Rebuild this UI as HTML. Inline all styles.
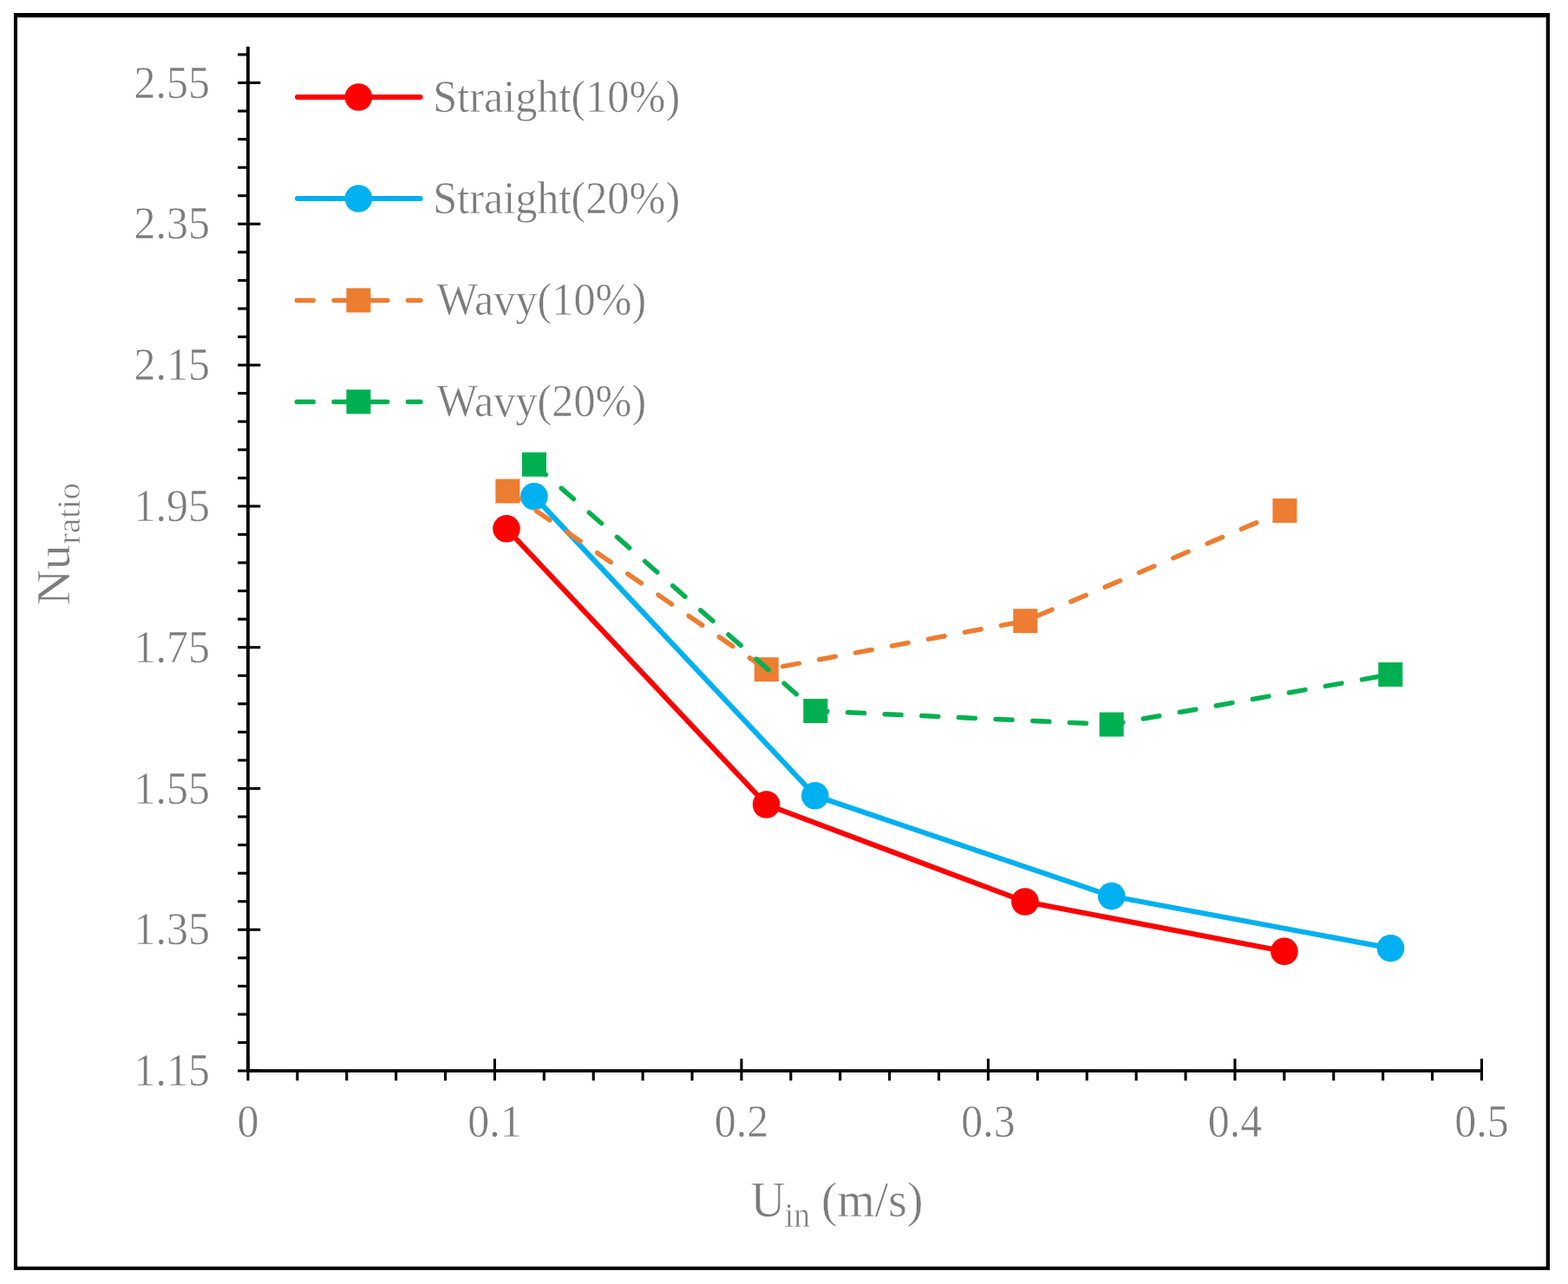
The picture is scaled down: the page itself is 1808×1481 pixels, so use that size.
<!DOCTYPE html>
<html lang="en"><head><meta charset="utf-8"><title>Nu ratio vs inlet velocity</title>
<style>
html,body{margin:0;padding:0;background:#fff;}
body{width:1808px;height:1481px;overflow:hidden;position:relative;}
svg{position:absolute;left:0;top:0;display:block;}
text{font-family:"Liberation Serif","Times New Roman",Times,serif;fill:#7c7c7c;stroke:#fff;stroke-width:0.50px;paint-order:fill stroke;}
.tk{font-size:50px;}
.lg{font-size:50.3px;}
.ttl{font-size:55.6px;}
.sub{font-size:37.5px;}
</style></head><body>
<svg role="img" aria-label="Line chart of Nu ratio versus inlet velocity" width="1808" height="1481" viewBox="0 0 1808 1481">
<rect x="0" y="0" width="1808" height="1481" fill="#fff"/>
<g>
<rect x="20.0" y="20.0" width="1762.7" height="1.6" fill="#dcdcdc"/>
<rect x="15.95" y="15.0" width="1771.05" height="5.0" fill="#000"/>
<rect x="15.95" y="1460.8" width="1771.05" height="4.1" fill="#000"/>
<rect x="15.95" y="15.0" width="4.05" height="1449.9" fill="#000"/>
<rect x="1782.7" y="15.0" width="4.3" height="1449.9" fill="#000"/>
</g>
<g stroke="#000" fill="none" stroke-linecap="butt">
<line x1="285.95" y1="53.80" x2="285.95" y2="1237.00" stroke-width="3.80"/>
<line x1="284.05" y1="1235.10" x2="1710.00" y2="1235.10" stroke-width="3.80"/>
<line x1="274.20" y1="1235.10" x2="300.30" y2="1235.10" stroke-width="3.10"/>
<line x1="274.20" y1="1202.54" x2="285.95" y2="1202.54" stroke-width="3.10"/>
<line x1="274.20" y1="1169.98" x2="285.95" y2="1169.98" stroke-width="3.10"/>
<line x1="274.20" y1="1137.42" x2="285.95" y2="1137.42" stroke-width="3.10"/>
<line x1="274.20" y1="1104.86" x2="285.95" y2="1104.86" stroke-width="3.10"/>
<line x1="274.20" y1="1072.30" x2="300.30" y2="1072.30" stroke-width="3.10"/>
<line x1="274.20" y1="1039.74" x2="285.95" y2="1039.74" stroke-width="3.10"/>
<line x1="274.20" y1="1007.18" x2="285.95" y2="1007.18" stroke-width="3.10"/>
<line x1="274.20" y1="974.62" x2="285.95" y2="974.62" stroke-width="3.10"/>
<line x1="274.20" y1="942.06" x2="285.95" y2="942.06" stroke-width="3.10"/>
<line x1="274.20" y1="909.50" x2="300.30" y2="909.50" stroke-width="3.10"/>
<line x1="274.20" y1="876.94" x2="285.95" y2="876.94" stroke-width="3.10"/>
<line x1="274.20" y1="844.38" x2="285.95" y2="844.38" stroke-width="3.10"/>
<line x1="274.20" y1="811.82" x2="285.95" y2="811.82" stroke-width="3.10"/>
<line x1="274.20" y1="779.26" x2="285.95" y2="779.26" stroke-width="3.10"/>
<line x1="274.20" y1="746.70" x2="300.30" y2="746.70" stroke-width="3.10"/>
<line x1="274.20" y1="714.14" x2="285.95" y2="714.14" stroke-width="3.10"/>
<line x1="274.20" y1="681.58" x2="285.95" y2="681.58" stroke-width="3.10"/>
<line x1="274.20" y1="649.02" x2="285.95" y2="649.02" stroke-width="3.10"/>
<line x1="274.20" y1="616.46" x2="285.95" y2="616.46" stroke-width="3.10"/>
<line x1="274.20" y1="583.90" x2="300.30" y2="583.90" stroke-width="3.10"/>
<line x1="274.20" y1="551.34" x2="285.95" y2="551.34" stroke-width="3.10"/>
<line x1="274.20" y1="518.78" x2="285.95" y2="518.78" stroke-width="3.10"/>
<line x1="274.20" y1="486.22" x2="285.95" y2="486.22" stroke-width="3.10"/>
<line x1="274.20" y1="453.66" x2="285.95" y2="453.66" stroke-width="3.10"/>
<line x1="274.20" y1="421.10" x2="300.30" y2="421.10" stroke-width="3.10"/>
<line x1="274.20" y1="388.54" x2="285.95" y2="388.54" stroke-width="3.10"/>
<line x1="274.20" y1="355.98" x2="285.95" y2="355.98" stroke-width="3.10"/>
<line x1="274.20" y1="323.42" x2="285.95" y2="323.42" stroke-width="3.10"/>
<line x1="274.20" y1="290.86" x2="285.95" y2="290.86" stroke-width="3.10"/>
<line x1="274.20" y1="258.30" x2="300.30" y2="258.30" stroke-width="3.10"/>
<line x1="274.20" y1="225.74" x2="285.95" y2="225.74" stroke-width="3.10"/>
<line x1="274.20" y1="193.18" x2="285.95" y2="193.18" stroke-width="3.10"/>
<line x1="274.20" y1="160.62" x2="285.95" y2="160.62" stroke-width="3.10"/>
<line x1="274.20" y1="128.06" x2="285.95" y2="128.06" stroke-width="3.10"/>
<line x1="274.20" y1="95.50" x2="300.30" y2="95.50" stroke-width="3.10"/>
<line x1="274.20" y1="62.94" x2="285.95" y2="62.94" stroke-width="3.10"/>
<line x1="285.95" y1="1221.20" x2="285.95" y2="1246.40" stroke-width="3.10"/>
<line x1="342.85" y1="1235.10" x2="342.85" y2="1246.40" stroke-width="3.10"/>
<line x1="399.75" y1="1235.10" x2="399.75" y2="1246.40" stroke-width="3.10"/>
<line x1="456.65" y1="1235.10" x2="456.65" y2="1246.40" stroke-width="3.10"/>
<line x1="513.55" y1="1235.10" x2="513.55" y2="1246.40" stroke-width="3.10"/>
<line x1="570.45" y1="1221.20" x2="570.45" y2="1246.40" stroke-width="3.10"/>
<line x1="627.35" y1="1235.10" x2="627.35" y2="1246.40" stroke-width="3.10"/>
<line x1="684.25" y1="1235.10" x2="684.25" y2="1246.40" stroke-width="3.10"/>
<line x1="741.15" y1="1235.10" x2="741.15" y2="1246.40" stroke-width="3.10"/>
<line x1="798.05" y1="1235.10" x2="798.05" y2="1246.40" stroke-width="3.10"/>
<line x1="854.95" y1="1221.20" x2="854.95" y2="1246.40" stroke-width="3.10"/>
<line x1="911.85" y1="1235.10" x2="911.85" y2="1246.40" stroke-width="3.10"/>
<line x1="968.75" y1="1235.10" x2="968.75" y2="1246.40" stroke-width="3.10"/>
<line x1="1025.65" y1="1235.10" x2="1025.65" y2="1246.40" stroke-width="3.10"/>
<line x1="1082.55" y1="1235.10" x2="1082.55" y2="1246.40" stroke-width="3.10"/>
<line x1="1139.45" y1="1221.20" x2="1139.45" y2="1246.40" stroke-width="3.10"/>
<line x1="1196.35" y1="1235.10" x2="1196.35" y2="1246.40" stroke-width="3.10"/>
<line x1="1253.25" y1="1235.10" x2="1253.25" y2="1246.40" stroke-width="3.10"/>
<line x1="1310.15" y1="1235.10" x2="1310.15" y2="1246.40" stroke-width="3.10"/>
<line x1="1367.05" y1="1235.10" x2="1367.05" y2="1246.40" stroke-width="3.10"/>
<line x1="1423.95" y1="1221.20" x2="1423.95" y2="1246.40" stroke-width="3.10"/>
<line x1="1480.85" y1="1235.10" x2="1480.85" y2="1246.40" stroke-width="3.10"/>
<line x1="1537.75" y1="1235.10" x2="1537.75" y2="1246.40" stroke-width="3.10"/>
<line x1="1594.65" y1="1235.10" x2="1594.65" y2="1246.40" stroke-width="3.10"/>
<line x1="1651.55" y1="1235.10" x2="1651.55" y2="1246.40" stroke-width="3.10"/>
<line x1="1708.45" y1="1221.20" x2="1708.45" y2="1246.40" stroke-width="3.10"/>
</g>
<g class="tk" text-anchor="end">
<text transform="translate(242.0,1252.10) scale(1,1.045)">1.15</text>
<text transform="translate(242.0,1089.30) scale(1,1.045)">1.35</text>
<text transform="translate(242.0,926.50) scale(1,1.045)">1.55</text>
<text transform="translate(242.0,763.70) scale(1,1.045)">1.75</text>
<text transform="translate(242.0,600.90) scale(1,1.045)">1.95</text>
<text transform="translate(242.0,438.10) scale(1,1.045)">2.15</text>
<text transform="translate(242.0,275.30) scale(1,1.045)">2.35</text>
<text transform="translate(242.0,112.50) scale(1,1.045)">2.55</text>
</g>
<g class="tk" text-anchor="middle">
<text transform="translate(285.95,1311.3) scale(1,1.045)">0</text>
<text transform="translate(570.45,1311.3) scale(1,1.045)">0.1</text>
<text transform="translate(854.95,1311.3) scale(1,1.045)">0.2</text>
<text transform="translate(1139.45,1311.3) scale(1,1.045)">0.3</text>
<text transform="translate(1423.95,1311.3) scale(1,1.045)">0.4</text>
<text transform="translate(1708.45,1311.3) scale(1,1.045)">0.5</text>
</g>
<text class="ttl" transform="translate(79.7,698.3) scale(1,1.030) rotate(-90)">Nu<tspan class="sub" dx="0.5" dy="12">ratio</tspan></text>
<text class="ttl" transform="translate(865.5,1403.4) scale(1,1.045)">U<tspan class="sub" dx="-0.8" dy="11.4">in</tspan><tspan dx="-0.8" dy="-11.4"> (m/s)</tspan></text>
<g>
<polyline points="584.0,609.8 883.6,928.0 1181.9,1040.0 1480.9,1097.4" fill="none" stroke="#ff0000" stroke-width="6.0" stroke-linejoin="round" stroke-linecap="round"/>
<circle cx="584.0" cy="609.8" r="15.8" fill="#ff0000"/>
<circle cx="883.6" cy="928.0" r="15.8" fill="#ff0000"/>
<circle cx="1181.9" cy="1040.0" r="15.8" fill="#ff0000"/>
<circle cx="1480.9" cy="1097.4" r="15.8" fill="#ff0000"/>
<polyline points="615.9,572.6 939.8,917.8 1281.7,1033.6 1603.5,1093.7" fill="none" stroke="#00b0f0" stroke-width="6.0" stroke-linejoin="round" stroke-linecap="round"/>
<circle cx="615.9" cy="572.6" r="15.8" fill="#00b0f0"/>
<circle cx="939.8" cy="917.8" r="15.8" fill="#00b0f0"/>
<circle cx="1281.7" cy="1033.6" r="15.8" fill="#00b0f0"/>
<circle cx="1603.5" cy="1093.7" r="15.8" fill="#00b0f0"/>
<polyline points="585.4,566.5 883.8,772.2 1182.3,716.2 1481.4,589.0" fill="none" stroke="#ed7d31" stroke-width="5.5" stroke-linejoin="round" stroke-linecap="round" stroke-dasharray="18.90 23.80" stroke-dashoffset="2.65"/>
<rect x="571.4" y="552.5" width="28.0" height="28.0" fill="#ed7d31"/>
<rect x="869.8" y="758.2" width="28.0" height="28.0" fill="#ed7d31"/>
<rect x="1168.3" y="702.2" width="28.0" height="28.0" fill="#ed7d31"/>
<rect x="1467.4" y="575.0" width="28.0" height="28.0" fill="#ed7d31"/>
<polyline points="616.0,535.7 940.3,820.0 1281.7,835.6 1603.3,778.0" fill="none" stroke="#00b050" stroke-width="5.5" stroke-linejoin="round" stroke-linecap="round" stroke-dasharray="18.90 23.80" stroke-dashoffset="1.15"/>
<rect x="602.0" y="521.7" width="28.0" height="28.0" fill="#00b050"/>
<rect x="926.3" y="806.0" width="28.0" height="28.0" fill="#00b050"/>
<rect x="1267.7" y="821.6" width="28.0" height="28.0" fill="#00b050"/>
<rect x="1589.3" y="764.0" width="28.0" height="28.0" fill="#00b050"/>
</g>
<g>
<line x1="343.0" y1="112.0" x2="484.6" y2="112.0" stroke="#ff0000" stroke-width="6.0" stroke-linecap="round"/>
<circle cx="413.4" cy="112.0" r="15.8" fill="#ff0000"/>
<text class="lg" transform="translate(499.2,128.5) scale(1,1.045)">Straight(10%)</text>
<line x1="343.0" y1="229.0" x2="484.6" y2="229.0" stroke="#00b0f0" stroke-width="6.0" stroke-linecap="round"/>
<circle cx="413.4" cy="229.0" r="15.8" fill="#00b0f0"/>
<text class="lg" transform="translate(499.2,245.5) scale(1,1.045)">Straight(20%)</text>
<line x1="340.0" y1="346.4" x2="484.9" y2="346.4" stroke="#ed7d31" stroke-width="5.5" stroke-linecap="round" stroke-dasharray="18.90 23.80" stroke-dashoffset="-2.35"/>
<rect x="399.4" y="332.4" width="28.0" height="28.0" fill="#ed7d31"/>
<text class="lg" transform="translate(503.5,362.9) scale(1,1.045)">Wavy(10%)</text>
<line x1="340.0" y1="463.4" x2="484.9" y2="463.4" stroke="#00b050" stroke-width="5.5" stroke-linecap="round" stroke-dasharray="18.90 23.80" stroke-dashoffset="-2.35"/>
<rect x="399.4" y="449.4" width="28.0" height="28.0" fill="#00b050"/>
<text class="lg" transform="translate(503.5,479.9) scale(1,1.045)">Wavy(20%)</text>
</g>
</svg>
</body></html>
